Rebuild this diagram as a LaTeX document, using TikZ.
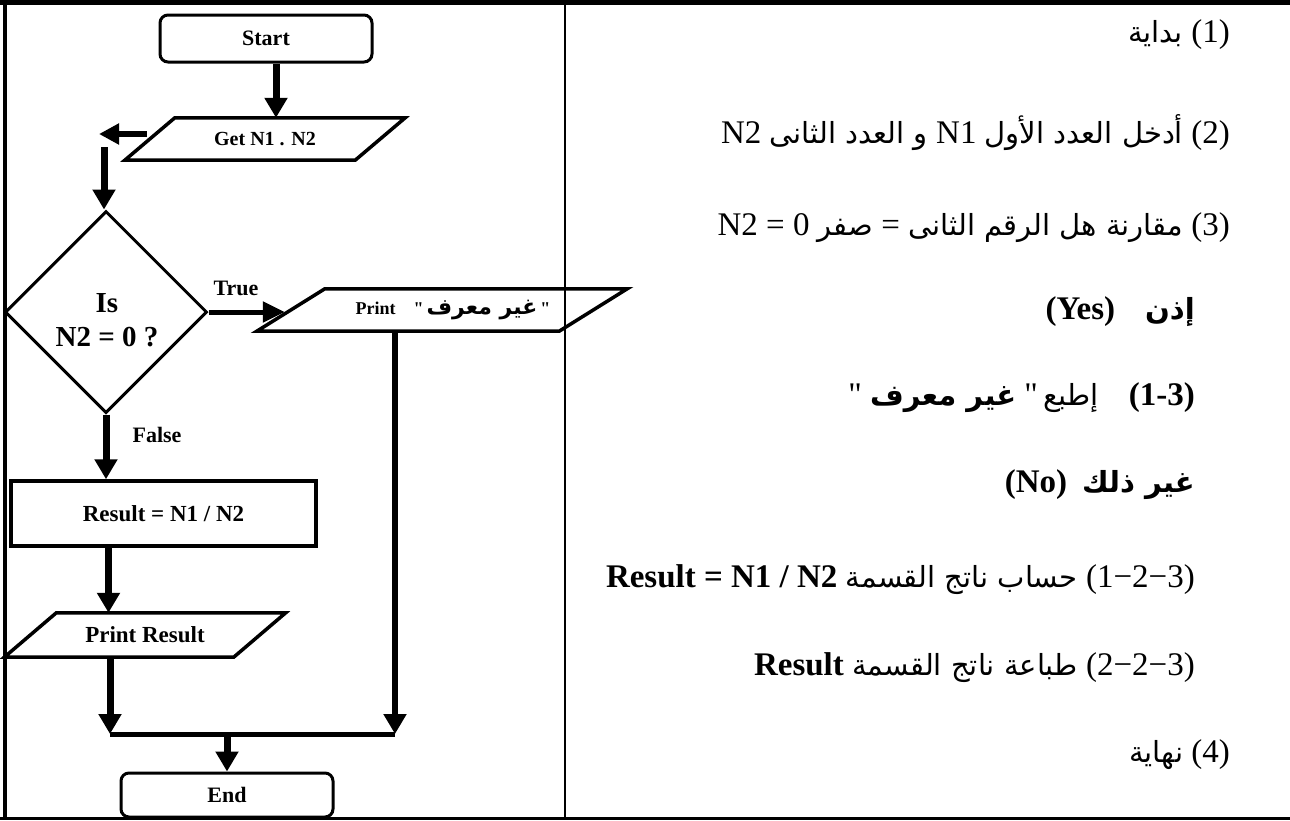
\documentclass[tikz,border=0pt]{standalone}
\usepackage{fontspec}
\setmainfont{Liberation Serif}
\newfontfamily\arfont[Script=Arabic,Scale=0.88]{DejaVu Sans}
\TeXXeTstate=1
\usetikzlibrary{arrows.meta,shapes.geometric}
\tikzset{
  shp/.style={draw, line width=3.5pt, line join=miter},
  holder/.style={inner sep=0pt},
  term/.style={draw, rounded corners=8pt, line width=3pt, inner sep=0pt,
    minimum width=212pt, minimum height=47pt, font=\fontsize{22}{26}\selectfont\bfseries},
  procbox/.style={draw, line width=3.5pt, inner sep=0pt},
  arr/.style={line width=7pt, -{Triangle[width=22pt,length=20pt]}},
  lab/.style={font=\fontsize{22}{26}\selectfont\bfseries, inner sep=0pt},
  rt/.style={anchor=east, inner sep=0pt, font=\fontsize{33}{40}\selectfont},
}
\begin{document}
\begin{tikzpicture}[x=1pt,y=-1pt]
\useasboundingbox (0,0) rectangle (1290,820);

% ---------- flowchart ----------
\node[term] (start) at (266,38.5) {Start};

\node[holder, minimum width=230pt, minimum height=42pt,
  font=\fontsize{20}{24}\selectfont\bfseries] (get) at (265,139) {Get N1 . N2\hspace{16pt}};
\draw[shp] ([xshift=25pt]get.north west) -- ([xshift=25pt]get.north east)
  -- ([xshift=-25pt]get.south east) -- ([xshift=-25pt]get.south west) -- cycle;

\draw[arr] ([xshift=10pt]start.south) -- ([xshift=10pt]start.south |- get.north);

\coordinate (lt) at (99,134);
\draw[line width=6pt, -{Triangle[width=20pt,length=20pt]}] ([xshift=-3pt,yshift=5pt]get.west) -- (lt);

\node[diamond, draw, line width=3pt, minimum width=202pt, minimum height=202pt,
  inner sep=0pt] (dec) at (106,312) {};
\node[font=\fontsize{29}{34}\selectfont\bfseries, align=center, inner sep=0pt] (dq)
  at (107,320) {Is\\N2 = 0 ?};

\coordinate (dt) at (104,147);
\draw[arr] (dt) -- (dt |- dec.north);

\node[holder, minimum width=302pt, minimum height=42pt,
  font=\fontsize{18}{22}\selectfont\bfseries] (prn) at (442,310)
  {\hspace{22pt}Print\hspace{18pt}\textquotedbl\,{\fontsize{25}{28}\selectfont\arfont\beginR غير معرف\endR}\,\textquotedbl};
\draw[shp] ([xshift=34pt]prn.north west) -- ([xshift=34pt]prn.north east)
  -- ([xshift=-34pt]prn.south east) -- ([xshift=-34pt]prn.south west) -- cycle;

\draw[line width=5pt, -{Triangle[width=20pt,length=22pt]}] (dec.east) -- ([xshift=-6pt]dec.east -| prn.west);
\node[lab] (tl) at (236,288) {True};

\node[procbox, minimum width=305pt, minimum height=65pt,
  font=\fontsize{23}{27}\selectfont\bfseries] (res) at (163.5,513.5) {Result = N1 / N2\hspace{13pt}};
\draw[arr] (dec.south) -- (dec.south |- res.north);
\node[lab] (fl) at (157,435) {False};

\node[holder, minimum width=229pt, minimum height=44pt,
  font=\fontsize{23}{27}\selectfont\bfseries] (pres) at (145,635) {Print Result\hspace{24pt}};
\draw[shp] ([xshift=26pt]pres.north west) -- ([xshift=26pt]pres.north east)
  -- ([xshift=-26pt]pres.south east) -- ([xshift=-26pt]pres.south west) -- cycle;

\draw[arr] ([xshift=-55pt]res.south) -- ([xshift=-55pt]res.south |- pres.north);

\coordinate (jl) at (110,734);
\coordinate (jr) at (395,734);
\coordinate (jm) at (227,736);
\draw[arr] (pres.south -| jl) -- (jl);
\draw[line width=6pt, -{Triangle[width=22pt,length=20pt]}] (prn.south -| jr) -- (jr);
\draw[line width=5pt] (jl) -- (jr);

\node[term, minimum height=44pt] (end) at (227,795) {End};
\draw[arr] (jm) -- (end.north);

% ---------- description ----------
\node[rt] (t1) at (1230,35) {\beginR\beginL(1)\endL\ {\arfont بداية}\endR};
\node[rt] (t2) at (1230,133) {\beginR\beginL(2)\endL\ {\arfont أدخل العدد الأول}\ \beginL N1\endL\ {\arfont و العدد الثانى}\ \beginL N2\endL\endR};
\node[rt] (t3) at (1230,228) {\beginR\beginL(3)\endL\ {\arfont مقارنة هل الرقم الثانى}\ =\ {\arfont صفر}\ \beginL N2 = 0\endL\endR};
\node[rt, font=\fontsize{33}{40}\selectfont\bfseries] (t4) at (1195,312) {\beginR{\arfont إذن}\hspace{30pt}\beginL(Yes)\endL\endR};
\node[rt] (t5) at (1195,398) {\beginR\beginL\mbox{\bfseries(1-3)}\endL\hspace{30pt}{\arfont إطبع}\,\textquotedbl\ {\arfont\bfseries غير معرف}\ \textquotedbl\endR};
\node[rt, font=\fontsize{33}{40}\selectfont\bfseries] (t6) at (1195,485) {\beginR{\arfont غير ذلك}\hspace{15pt}\beginL(No)\endL\endR};
\node[rt] (t7) at (1195,580) {{\bfseries Result = N1 / N2}\ {\arfont\beginR حساب ناتج القسمة\endR}\ (1−2−3)};
\node[rt] (t8) at (1195,668) {{\bfseries Result}\ {\arfont\beginR طباعة ناتج القسمة\endR}\ (2−2−3)};
\node[rt] (t9) at (1230,755) {\beginR\beginL(4)\endL\ {\arfont نهاية}\endR};

% ---------- frame ----------
\draw[line width=5pt] (0,2.5) -- (1290,2.5);
\draw[line width=3.5pt] (5,0) -- (5,820);
\draw[line width=3pt] (0,818.5) -- (1290,818.5);
\draw[line width=2.5pt] (565,0) -- (565,820);
\end{tikzpicture}
\end{document}
